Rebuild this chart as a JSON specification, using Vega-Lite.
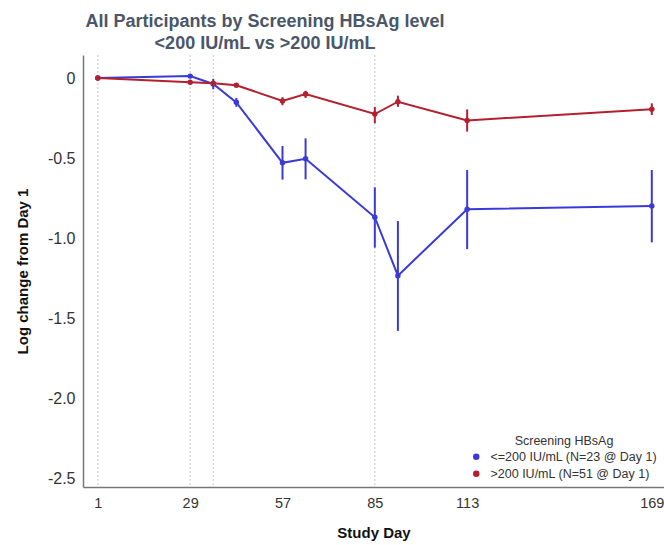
{
  "$schema": "https://vega.github.io/schema/vega-lite/v6.json",
  "autosize": {"type": "none"},
  "padding": {"left": 83, "top": 55, "right": 0, "bottom": 58},
  "width": 581,
  "height": 432,
  "background": "white",
  "title": {
    "text": ["All Participants by Screening HBsAg level", "<200 IU/mL vs >200 IU/mL"],
    "font": "Liberation Sans",
    "fontSize": 18,
    "fontWeight": "bold",
    "color": "#4a566a",
    "anchor": "start",
    "align": "center",
    "frame": "group",
    "dx": 182,
    "offset": 2,
    "lineHeight": 22
  },
  "config": {
    "view": {"stroke": null},
    "font": "Liberation Sans",
    "axis": {
      "labelFont": "Liberation Sans",
      "titleFont": "Liberation Sans",
      "labelColor": "#333333",
      "titleColor": "#111111",
      "domainColor": "#777777",
      "domainWidth": 1.5,
      "ticks": false,
      "grid": false
    }
  },
  "datasets": {
    "series": [
      {"group": "<=200 IU/mL (N=23 @ Day 1)", "day": 1, "mean": 0, "lo": 0, "hi": 0},
      {"group": "<=200 IU/mL (N=23 @ Day 1)", "day": 29, "mean": 0.012, "lo": 0.0, "hi": 0.022},
      {"group": "<=200 IU/mL (N=23 @ Day 1)", "day": 36, "mean": -0.037, "lo": -0.07, "hi": -0.005},
      {"group": "<=200 IU/mL (N=23 @ Day 1)", "day": 43, "mean": -0.152, "lo": -0.18, "hi": -0.125},
      {"group": "<=200 IU/mL (N=23 @ Day 1)", "day": 57, "mean": -0.53, "lo": -0.635, "hi": -0.425},
      {"group": "<=200 IU/mL (N=23 @ Day 1)", "day": 64, "mean": -0.505, "lo": -0.633, "hi": -0.377},
      {"group": "<=200 IU/mL (N=23 @ Day 1)", "day": 85, "mean": -0.87, "lo": -1.06, "hi": -0.683},
      {"group": "<=200 IU/mL (N=23 @ Day 1)", "day": 92, "mean": -1.235, "lo": -1.58, "hi": -0.894},
      {"group": "<=200 IU/mL (N=23 @ Day 1)", "day": 113, "mean": -0.82, "lo": -1.069, "hi": -0.575},
      {"group": "<=200 IU/mL (N=23 @ Day 1)", "day": 169, "mean": -0.8, "lo": -1.027, "hi": -0.575},
      {"group": ">200 IU/mL (N=51 @ Day 1)", "day": 1, "mean": 0, "lo": 0, "hi": 0},
      {"group": ">200 IU/mL (N=51 @ Day 1)", "day": 29, "mean": -0.027, "lo": -0.037, "hi": -0.017},
      {"group": ">200 IU/mL (N=51 @ Day 1)", "day": 36, "mean": -0.032, "lo": -0.045, "hi": -0.018},
      {"group": ">200 IU/mL (N=51 @ Day 1)", "day": 43, "mean": -0.045, "lo": -0.055, "hi": -0.035},
      {"group": ">200 IU/mL (N=51 @ Day 1)", "day": 57, "mean": -0.143, "lo": -0.17, "hi": -0.12},
      {"group": ">200 IU/mL (N=51 @ Day 1)", "day": 64, "mean": -0.1, "lo": -0.125, "hi": -0.08},
      {"group": ">200 IU/mL (N=51 @ Day 1)", "day": 85, "mean": -0.225, "lo": -0.283, "hi": -0.18},
      {"group": ">200 IU/mL (N=51 @ Day 1)", "day": 92, "mean": -0.148, "lo": -0.18, "hi": -0.11},
      {"group": ">200 IU/mL (N=51 @ Day 1)", "day": 113, "mean": -0.265, "lo": -0.335, "hi": -0.196},
      {"group": ">200 IU/mL (N=51 @ Day 1)", "day": 169, "mean": -0.195, "lo": -0.231, "hi": -0.158}
    ],
    "refs": [{"day": 1}, {"day": 29}, {"day": 36}, {"day": 85}]
  },
  "layer": [
    {
      "data": {"name": "refs"},
      "mark": {"type": "rule", "color": "#c8c8c8", "strokeDash": [2, 2], "strokeWidth": 1},
      "encoding": {
        "x": {"field": "day", "type": "quantitative", "scale": {"domain": [-3.5, 172.7], "nice": false, "zero": false}}
      }
    },
    {
      "data": {"name": "series"},
      "mark": {"type": "rule", "strokeWidth": 2},
      "encoding": {
        "x": {"field": "day", "type": "quantitative"},
        "y": {"field": "lo", "type": "quantitative"},
        "y2": {"field": "hi"},
        "color": {"field": "group", "type": "nominal"}
      }
    },
    {
      "data": {"name": "series"},
      "mark": {"type": "line", "strokeWidth": 2, "point": {"filled": true, "size": 30}},
      "encoding": {
        "x": {
          "field": "day", "type": "quantitative",
          "scale": {"domain": [-3.5, 172.7], "nice": false, "zero": false},
          "axis": {
            "values": [1, 29, 57, 85, 113, 169],
            "title": "Study Day",
            "titleFontSize": 15,
            "titleFontWeight": "bold",
            "labelFontSize": 14.5,
            "labelPadding": 9,
            "titlePadding": 16
          }
        },
        "y": {
          "field": "mean", "type": "quantitative",
          "scale": {"domain": [-2.556, 0.144], "nice": false, "zero": false},
          "axis": {
            "values": [0, -0.5, -1, -1.5, -2, -2.5],
            "labelExpr": "datum.value == 0 ? '0' : '-' + format(-datum.value, '.1f')",
            "title": "Log change from Day 1",
            "titleFontSize": 15,
            "titleFontWeight": "bold",
            "labelFontSize": 16,
            "labelPadding": 8,
            "titlePadding": 17
          }
        },
        "color": {
          "field": "group", "type": "nominal",
          "scale": {"domain": ["<=200 IU/mL (N=23 @ Day 1)", ">200 IU/mL (N=51 @ Day 1)"], "range": ["#3a3ad8", "#b3202f"]},
          "legend": {
            "title": "Screening HBsAg",
            "orient": "none",
            "legendX": 387,
            "legendY": 380,
            "padding": 0,
            "titleAnchor": "middle",
            "titleFontWeight": "normal",
            "titleFontSize": 12.5,
            "titleColor": "#333333",
            "labelFontSize": 12.5,
            "labelColor": "#333333",
            "labelLimit": 300,
            "symbolType": "circle",
            "symbolSize": 25,
            "rowPadding": 4,
            "labelOffset": 8,
            "titlePadding": 3
          }
        }
      }
    }
  ]
}
